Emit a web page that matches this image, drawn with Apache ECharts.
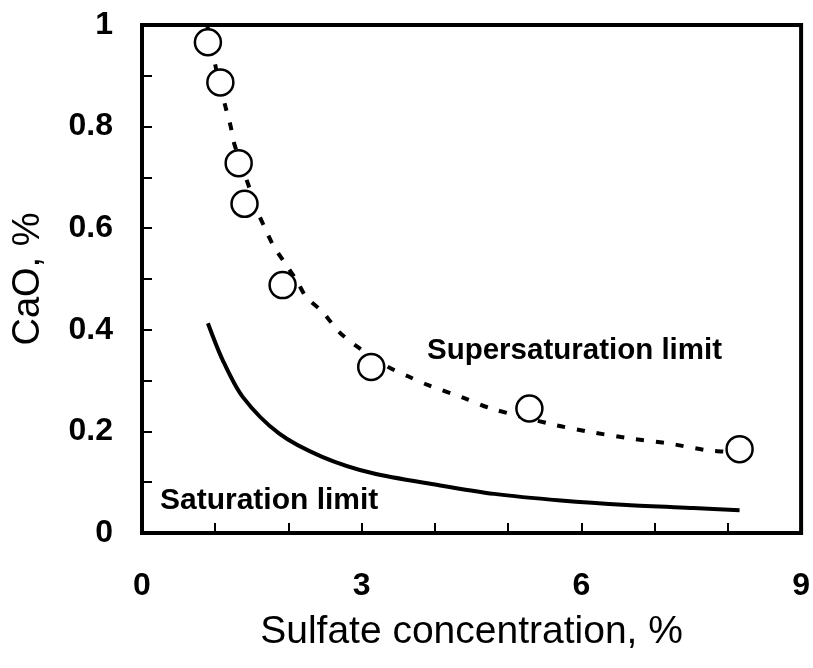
<!DOCTYPE html>
<html>
<head>
<meta charset="utf-8">
<script src="https://cdn.jsdelivr.net/npm/echarts@6/dist/echarts.min.js"></script>
<style>
html,body{margin:0;padding:0;background:#fff;}
#c{width:813px;height:668px;}
</style>
</head>
<body>
<div id="c"></div>
<script>
// Measured data points (sulfate %, CaO %)
var pointsX = [0.90, 1.07, 1.32, 1.40, 1.92, 3.13, 5.29, 8.16];
var pointsY = [0.966, 0.887, 0.728, 0.648, 0.488, 0.327, 0.245, 0.165];

// Supersaturation limit (dotted curve)
var superX = [0.89, 1.01, 1.14, 1.21, 1.26, 1.47, 1.58, 1.67, 1.80, 1.94, 2.12, 2.24, 2.46, 2.69, 2.91, 3.36, 3.64, 3.91, 4.41, 4.77, 5.63, 6.12, 6.67, 7.16, 7.71, 7.96, 8.16];
var superY = [1.0, 0.915, 0.839, 0.801, 0.766, 0.678, 0.632, 0.603, 0.564, 0.534, 0.495, 0.465, 0.436, 0.396, 0.370, 0.327, 0.308, 0.291, 0.265, 0.245, 0.213, 0.199, 0.186, 0.177, 0.163, 0.160, 0.156];

// Saturation limit (solid curve)
var satX = [0.90, 1.10, 1.375, 1.87, 2.46, 3.14, 4.04, 4.81, 5.72, 6.62, 7.53, 8.16];
var satY = [0.413, 0.341, 0.268, 0.196, 0.150, 0.118, 0.0945, 0.077, 0.064, 0.055, 0.049, 0.045];

var xTicks = [0, 3, 6, 9];
var yTicks = [0, 0.2, 0.4, 0.6, 0.8, 1];

function zip(a, b) { return a.map(function (v, i) { return [v, b[i]]; }); }

var FONT = '"Liberation Sans", Arial, sans-serif';
var chart = echarts.init(document.getElementById('c'));
chart.setOption({
  animation: false,
  backgroundColor: '#fff',
  grid: { left: 142, right: 8, top: 25, bottom: 135, show: true, borderColor: '#000', borderWidth: 4, backgroundColor: 'transparent' },
  xAxis: {
    type: 'value', min: 0, max: 9, interval: 1,
    name: 'Sulfate concentration, %', nameLocation: 'middle', nameGap: 80,
    nameTextStyle: { fontFamily: FONT, fontSize: 39, color: '#000' },
    axisLine: { show: false },
    axisTick: { show: true, inside: true, length: 10, lineStyle: { color: '#000', width: 2 } },
    splitLine: { show: false },
    axisLabel: {
      margin: 37, fontFamily: FONT, fontSize: 32, fontWeight: 'bold', color: '#000',
      formatter: function (v) { return xTicks.indexOf(Math.round(v * 1000) / 1000) >= 0 ? String(v) : ''; }
    }
  },
  yAxis: {
    type: 'value', min: 0, max: 1, interval: 0.1,
    name: 'CaO, %', nameLocation: 'middle', nameGap: 94,
    nameTextStyle: { fontFamily: FONT, fontSize: 38, color: '#000' },
    axisLine: { show: false },
    axisTick: { show: true, inside: true, length: 10, lineStyle: { color: '#000', width: 2 } },
    splitLine: { show: false },
    axisLabel: {
      margin: 29, fontFamily: FONT, fontSize: 32, fontWeight: 'bold', color: '#000',
      formatter: function (v) {
        var r = Math.round(v * 1000) / 1000;
        return yTicks.indexOf(r) >= 0 ? String(r) : '';
      }
    }
  },
  series: [
    {
      type: 'line', data: zip(superX, superY), smooth: 0.3, symbol: 'none',
      lineStyle: { color: '#000', width: 4, type: [8, 12] }, z: 2
    },
    {
      type: 'line', data: zip(satX, satY), smooth: 0.3, symbol: 'none',
      lineStyle: { color: '#000', width: 4 }, z: 2
    },
    {
      type: 'scatter', data: zip(pointsX, pointsY), symbol: 'circle', symbolSize: 26,
      itemStyle: { color: '#fff', borderColor: '#000', borderWidth: 2.5, opacity: 1 }, z: 3
    }
  ],
  graphic: [
    { type: 'text', left: 427, top: 353 - 17, z: 10,
      style: { text: 'Supersaturation limit', fontFamily: FONT, fontSize: 29.5, fontWeight: 'bold', fill: '#000' } },
    { type: 'text', left: 160, top: 503 - 17, z: 10,
      style: { text: 'Saturation limit', fontFamily: FONT, fontSize: 30, fontWeight: 'bold', fill: '#000' } }
  ]
});
</script>
</body>
</html>
